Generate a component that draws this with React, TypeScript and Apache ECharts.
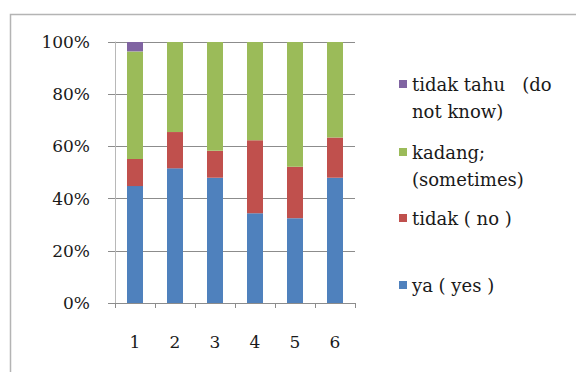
import React, { useEffect, useRef } from "react";
import * as echarts from "echarts";

// Survey answers per question, as percentages of respondents
const categories = ["1", "2", "3", "4", "5", "6"];
const yaYes = [44.8, 51.6, 48.0, 34.4, 32.5, 48.0];
const tidakNo = [10.4, 13.9, 10.3, 28.0, 19.7, 15.4];
const kadangSometimes = [41.2, 34.5, 41.7, 37.6, 47.8, 36.6];
const tidakTahu = [3.6, 0, 0, 0, 0, 0];

const seriesNames = {
  ya: "ya ( yes )",
  tidak: "tidak ( no )",
  kadang: "kadang;\n(sometimes)",
  tahu: "tidak tahu   (do\nnot know)",
};

const FONT = "DejaVu Serif";
const LINE = 27;

export default function App() {
  const ref = useRef<HTMLDivElement>(null);

  useEffect(() => {
    if (!ref.current) return;
    const chart = echarts.init(ref.current, null, { renderer: "svg" });

    // One legend block per series; two-line names get a blank leading line so
    // that the marker lines up with their first line.
    const legendBlock = (name: string, firstLineY: number, twoLines: boolean) => ({
      data: [name],
      orient: "vertical",
      left: 399,
      top: firstLineY - (twoLines ? LINE * 1.5 : LINE / 2),
      padding: 0,
      itemWidth: 8,
      itemHeight: 8,
      itemGap: 0,
      icon: "rect",
      selectedMode: false,
      formatter: twoLines ? (n: string) => " \n" + n : "{name}",
      textStyle: {
        fontFamily: FONT,
        fontSize: 18,
        color: "#1a1a1a",
        lineHeight: LINE,
      },
    });

    chart.setOption({
      animation: false,
      backgroundColor: "#ffffff",
      color: ["#4F81BD", "#C0504D", "#9BBB59", "#8064A2"],
      graphic: [
        {
          type: "rect",
          left: 8,
          top: 12,
          shape: { width: 620, height: 420 },
          style: { fill: "none", stroke: "#b4b4b4", lineWidth: 1.5 },
          silent: true,
        },
      ],
      legend: [
        legendBlock(seriesNames.tahu, 84, true),
        legendBlock(seriesNames.kadang, 152, true),
        legendBlock(seriesNames.tidak, 218, false),
        legendBlock(seriesNames.ya, 285, false),
      ],
      grid: { left: 115, top: 42, width: 240, height: 261 },
      xAxis: {
        type: "category",
        data: categories,
        axisLine: { show: true, lineStyle: { color: "#8c8c8c", width: 1 } },
        axisTick: { show: true, length: 5, lineStyle: { color: "#8c8c8c" } },
        axisLabel: {
          fontFamily: FONT,
          fontSize: 17,
          color: "#1a1a1a",
          margin: 30,
        },
      },
      yAxis: {
        type: "value",
        min: 0,
        max: 100,
        interval: 20,
        axisLine: { show: true, lineStyle: { color: "#b8b8b8", width: 1 } },
        axisTick: { show: true, length: 7, lineStyle: { color: "#8c8c8c" } },
        axisLabel: {
          formatter: "{value}%",
          fontFamily: FONT,
          fontSize: 17,
          color: "#1a1a1a",
          margin: 25,
        },
        splitLine: { show: true, lineStyle: { color: "#8c8c8c", width: 1 } },
      },
      series: [
        { name: seriesNames.ya, type: "bar", stack: "all", data: yaYes, barWidth: 16 },
        { name: seriesNames.tidak, type: "bar", stack: "all", data: tidakNo, barWidth: 16 },
        { name: seriesNames.kadang, type: "bar", stack: "all", data: kadangSometimes, barWidth: 16 },
        { name: seriesNames.tahu, type: "bar", stack: "all", data: tidakTahu, barWidth: 16 },
      ],
    });

    return () => chart.dispose();
  }, []);

  return (
    <div
      ref={ref}
      style={{ position: "fixed", left: 0, top: 0, width: 576, height: 372 }}
    />
  );
}
